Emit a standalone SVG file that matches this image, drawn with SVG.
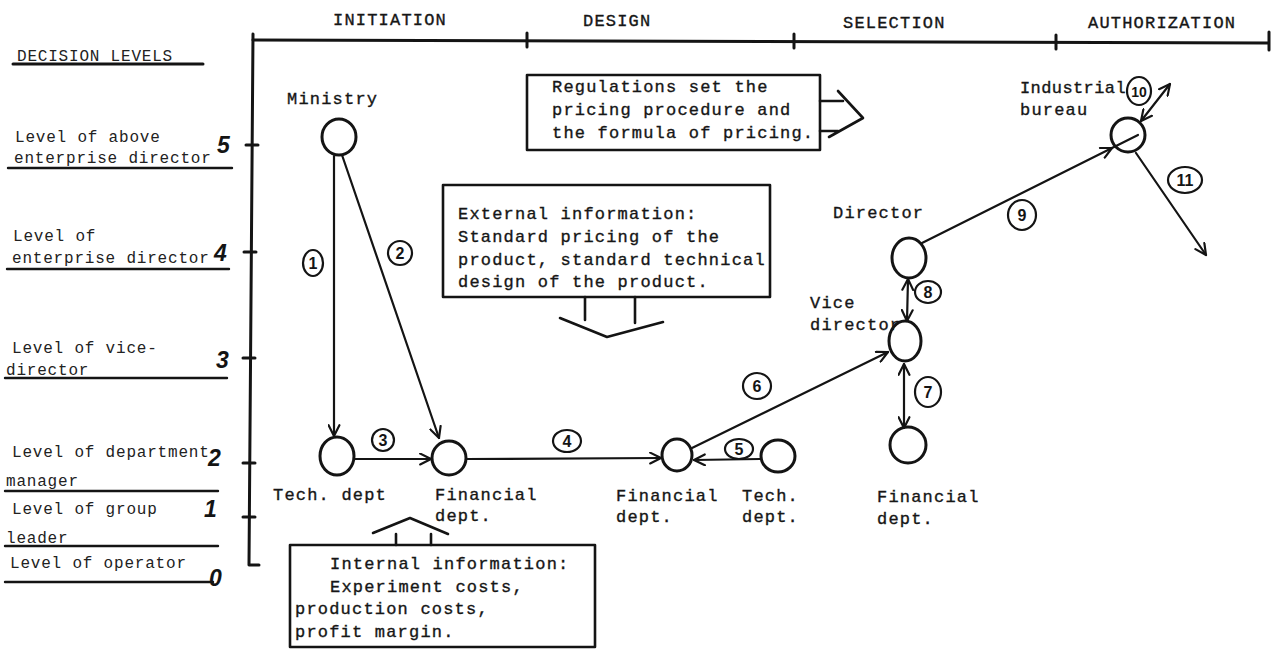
<svg xmlns="http://www.w3.org/2000/svg" width="1277" height="652" viewBox="0 0 1277 652">
  <style>
    .ink { stroke: #141414; fill: none; stroke-linecap: round; stroke-linejoin: round; }
    .axis { stroke-width: 3; }
    .rule { stroke-width: 2.4; }
    .node { stroke-width: 3; }
    .edge { stroke-width: 2.2; }
    .box { stroke-width: 2.6; }
    .tw { font-family: "Liberation Mono", "DejaVu Sans Mono", monospace; font-size: 17px; letter-spacing: 1.2px; fill: #161616; stroke: #161616; stroke-width: 0.35px; }
    .lv { font-family: "Liberation Mono", "DejaVu Sans Mono", monospace; font-size: 16px; letter-spacing: 0.8px; fill: #222; }
    .num { font-family: "Liberation Sans", Arial, sans-serif; font-size: 23px; font-style: italic; font-weight: bold; fill: #141414; }
    .tag { font-family: "Liberation Sans", Arial, sans-serif; font-size: 16px; font-weight: bold; fill: #141414; text-anchor: middle; }
    .ring { stroke: #141414; stroke-width: 2.2; fill: none; }
  </style>
  <defs>
    <marker id="ah" viewBox="0 0 12 12" refX="11" refY="6" markerWidth="13" markerHeight="13" markerUnits="userSpaceOnUse" orient="auto-start-reverse">
      <path d="M1,1 L11,6 L1,11" fill="none" stroke="#141414" stroke-width="2" stroke-linecap="round" stroke-linejoin="round"/>
    </marker>
  </defs>

  <rect width="1277" height="652" fill="#ffffff"/>

  <!-- time axis with phases -->
  <g id="phases">
    <path class="ink axis" d="M253,40 L1268,43"/>
    <path class="ink axis" d="M527,33 L527,47 M794,34 L794,48 M1056,35 L1056,49 M1269,32 L1269,50"/>
    <text class="tw" x="333" y="25">INITIATION</text>
    <text class="tw" x="583" y="26">DESIGN</text>
    <text class="tw" x="843" y="28">SELECTION</text>
    <text class="tw" x="1088" y="28">AUTHORIZATION</text>
  </g>

  <!-- decision level axis -->
  <g id="levels">
    <path class="ink axis" d="M253,34 L249,565 L259,565"/>
    <path class="ink axis" d="M246,145 L258,145 M244,252 L256,252 M243,358 L255,358 M243,463 L255,463 M243,517 L255,517"/>
    <text class="num" x="217" y="153">5</text>
    <text class="num" x="214" y="261">4</text>
    <text class="num" x="216" y="368">3</text>
    <text class="num" x="208" y="466">2</text>
    <text class="num" x="204" y="517">1</text>
    <text class="num" x="209" y="586">0</text>

    <text class="lv" x="17" y="61">DECISION LEVELS</text>
    <path class="ink axis" d="M13,64 L203,64"/>
    <text class="lv" x="15" y="142">Level of above</text>
    <text class="lv" x="14" y="163">enterprise director</text>
    <path class="ink rule" d="M8,168 L232,168"/>
    <text class="lv" x="13" y="241">Level of</text>
    <text class="lv" x="12" y="263">enterprise director</text>
    <path class="ink rule" d="M7,269 L229,269"/>
    <text class="lv" x="12" y="353">Level of vice-</text>
    <text class="lv" x="6" y="375">director</text>
    <path class="ink rule" d="M5,378 L227,378"/>
    <text class="lv" x="12" y="457">Level of department</text>
    <text class="lv" x="6" y="486">manager</text>
    <path class="ink rule" d="M5,491 L218,491"/>
    <text class="lv" x="12" y="514">Level of group</text>
    <text class="lv" x="6" y="543">leader</text>
    <path class="ink rule" d="M5,546 L218,546"/>
    <text class="lv" x="10" y="568">Level of operator</text>
    <path class="ink rule" d="M5,582 L213,582"/>
  </g>

  <!-- decision units -->
  <g id="ministry">
    <ellipse class="ink node" cx="339" cy="137" rx="17" ry="18"/>
    <text class="tw" x="287" y="104">Ministry</text>
  </g>
  <g id="tech-dept-1">
    <ellipse class="ink node" cx="337" cy="456" rx="17" ry="19"/>
    <text class="tw" x="273" y="500">Tech. dept</text>
  </g>
  <g id="fin-dept-1">
    <ellipse class="ink node" cx="449" cy="458" rx="17" ry="17"/>
    <text class="tw" x="435" y="500">Financial</text>
    <text class="tw" x="435" y="521">dept.</text>
  </g>
  <g id="fin-dept-2">
    <ellipse class="ink node" cx="677" cy="455" rx="15" ry="16"/>
    <text class="tw" x="616" y="501">Financial</text>
    <text class="tw" x="616" y="522">dept.</text>
  </g>
  <g id="tech-dept-2">
    <ellipse class="ink node" cx="778" cy="456" rx="17" ry="16"/>
    <text class="tw" x="742" y="501">Tech.</text>
    <text class="tw" x="742" y="522">dept.</text>
  </g>
  <g id="vice-director">
    <ellipse class="ink node" cx="905" cy="341" rx="16" ry="20"/>
    <text class="tw" x="810" y="308">Vice</text>
    <text class="tw" x="810" y="330">director</text>
  </g>
  <g id="director">
    <ellipse class="ink node" cx="909" cy="258" rx="17" ry="20"/>
    <text class="tw" x="833" y="218">Director</text>
  </g>
  <g id="fin-dept-3">
    <ellipse class="ink node" cx="908" cy="445" rx="18" ry="18"/>
    <text class="tw" x="877" y="502">Financial</text>
    <text class="tw" x="877" y="524">dept.</text>
  </g>
  <g id="industrial-bureau">
    <ellipse class="ink node" cx="1128" cy="135" rx="17" ry="17"/>
    <text class="tw" x="1020" y="93" style="letter-spacing:0.4px">Industrial</text>
    <text class="tw" x="1020" y="115">bureau</text>
  </g>

  <!-- information boxes -->
  <g id="regulations">
    <rect class="ink box" x="527" y="75" width="293" height="75"/>
    <text class="tw" x="552" y="92">Regulations set the</text>
    <text class="tw" x="552" y="115">pricing procedure and</text>
    <text class="tw" x="552" y="138">the formula of pricing.</text>
    <path class="ink box" d="M820,101 L843,101 M820,131 L838,131 M838,91 L863,118 L829,137"/>
  </g>
  <g id="external-info">
    <rect class="ink box" x="443" y="185" width="327" height="112"/>
    <text class="tw" x="458" y="219">External information:</text>
    <text class="tw" x="458" y="242">Standard pricing of the</text>
    <text class="tw" x="458" y="265">product, standard technical</text>
    <text class="tw" x="458" y="287">design of the product.</text>
    <path class="ink box" d="M585,297 L585,320 M635,297 L635,323 M560,318 L607,337 L663,322"/>
  </g>
  <g id="internal-info">
    <rect class="ink box" x="290" y="545" width="305" height="102"/>
    <text class="tw" x="330" y="569">Internal information:</text>
    <text class="tw" x="330" y="592">Experiment costs,</text>
    <text class="tw" x="295" y="614">production costs,</text>
    <text class="tw" x="295" y="637">profit margin.</text>
    <path class="ink box" d="M396,545 L396,534 M431,545 L431,534 M373,533 L410,518 L448,534"/>
  </g>

  <!-- flows between units -->
  <g id="connectors">
    <path class="ink edge" d="M334,156 L334,436" marker-end="url(#ah)"/>
    <path class="ink edge" d="M342,155 L439,438" marker-end="url(#ah)"/>
    <path class="ink edge" d="M355,459 L431,459" marker-end="url(#ah)"/>
    <path class="ink edge" d="M467,459 L661,458" marker-end="url(#ah)"/>
    <path class="ink edge" d="M760,459 L694,460" marker-end="url(#ah)"/>
    <path class="ink edge" d="M692,448 L888,352" marker-end="url(#ah)"/>
    <path class="ink edge" d="M904,364 L904,428" marker-start="url(#ah)" marker-end="url(#ah)"/>
    <path class="ink edge" d="M907,321 L908,279" marker-start="url(#ah)" marker-end="url(#ah)"/>
    <path class="ink edge" d="M922,243 L1112,148" marker-end="url(#ah)"/>
    <path class="ink edge" d="M1112,148 L1138,135"/>
    <path class="ink edge" d="M1141,121 L1170,84" marker-start="url(#ah)" marker-end="url(#ah)"/>
    <path class="ink edge" d="M1136,153 L1206,255" marker-end="url(#ah)"/>

    <!-- step numbers -->
    <ellipse class="ring" cx="313" cy="263" rx="10" ry="13"/>
    <text class="tag" x="313" y="269">1</text>
    <ellipse class="ring" cx="400" cy="253" rx="12" ry="12"/>
    <text class="tag" x="400" y="259">2</text>
    <ellipse class="ring" cx="383" cy="440" rx="11" ry="11"/>
    <text class="tag" x="383" y="446">3</text>
    <ellipse class="ring" cx="567" cy="441" rx="14" ry="11"/>
    <text class="tag" x="567" y="447">4</text>
    <ellipse class="ring" cx="739" cy="449" rx="14" ry="10"/>
    <text class="tag" x="739" y="455">5</text>
    <ellipse class="ring" cx="757" cy="386" rx="14" ry="13"/>
    <text class="tag" x="757" y="392">6</text>
    <ellipse class="ring" cx="928" cy="392" rx="13" ry="15"/>
    <text class="tag" x="928" y="398">7</text>
    <ellipse class="ring" cx="928" cy="292" rx="13" ry="11"/>
    <text class="tag" x="928" y="298">8</text>
    <ellipse class="ring" cx="1022" cy="215" rx="14" ry="15"/>
    <text class="tag" x="1022" y="221">9</text>
    <ellipse class="ring" cx="1139" cy="91" rx="12" ry="14"/>
    <text class="tag" x="1139" y="97" style="font-size:14px">10</text>
    <ellipse class="ring" cx="1185" cy="180" rx="17" ry="13"/>
    <text class="tag" x="1185" y="186">11</text>
  </g>
</svg>
